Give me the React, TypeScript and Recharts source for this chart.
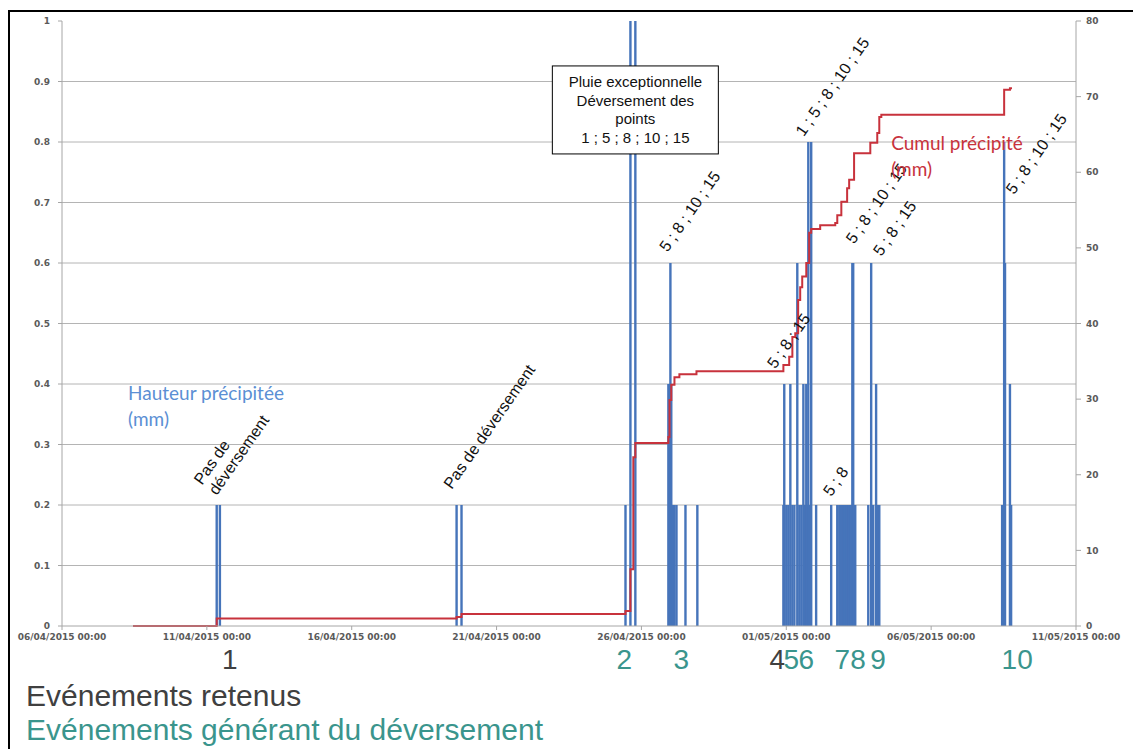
import React from "react";
import {
  ComposedChart,
  Bar,
  Line,
  XAxis,
  YAxis,
  CartesianGrid,
  ReferenceDot,
} from "recharts";

// x = days since 06/04/2015 00:00
const dateTicks = [0, 5, 10, 15, 20, 25, 30, 35];
const dateLabels = [
  "06/04/2015 00:00",
  "11/04/2015 00:00",
  "16/04/2015 00:00",
  "21/04/2015 00:00",
  "26/04/2015 00:00",
  "01/05/2015 00:00",
  "06/05/2015 00:00",
  "11/05/2015 00:00",
];
const heightTicks = [0, 0.1, 0.2, 0.3, 0.4, 0.5, 0.6, 0.7, 0.8, 0.9, 1];
const gridValues = [0.1, 0.2, 0.3, 0.4, 0.5, 0.6, 0.7, 0.8, 0.9];
const cumulTicks = [0, 10, 20, 30, 40, 50, 60, 70, 80];

// hauteur précipitée (mm)
const rainT = [
  5.34, 5.45, 13.62, 13.79,
  19.45, 19.62, 19.79,
  20.93, 20.97, 21.0, 21.03, 21.07, 21.1, 21.14, 21.21, 21.52, 21.93,
  24.9, 24.93, 25.0, 25.07, 25.14, 25.21, 25.28, 25.38, 25.45, 25.52, 25.59, 25.62,
  25.66, 25.69, 25.72, 25.76, 25.79, 25.86, 26.03, 26.55,
  26.76, 26.83, 26.86, 26.93, 26.97, 27.0, 27.03, 27.07, 27.1, 27.14, 27.17, 27.21,
  27.24, 27.28, 27.31, 27.34, 27.38,
  27.83, 27.93, 28.0, 28.1, 28.17, 28.21,
  32.45, 32.52, 32.55, 32.72, 32.76,
];
const rainH = [
  0.2, 0.2, 0.2, 0.2,
  0.2, 5.5, 16.7,
  0.4, 0.4, 0.6, 0.4, 0.2, 0.2, 0.2, 0.2, 0.2, 0.2,
  0.2, 0.4, 0.2, 0.2, 0.4, 0.2, 0.2, 0.6, 0.2, 0.2, 0.4, 0.2,
  0.2, 0.4, 0.2, 0.8, 0.2, 0.8, 0.2, 0.2,
  0.2, 0.2, 0.2, 0.2, 0.2, 0.2, 0.2, 0.2, 0.2, 0.2, 0.2, 0.2,
  0.2, 0.6, 0.6, 0.2, 0.2,
  0.2, 0.6, 0.2, 0.4, 0.2, 0.2,
  0.2, 0.8, 0.6, 0.4, 0.2,
];

// cumul précipité (mm)
const cumulT = [
  2.45, 5.34, 13.62, 13.79, 19.45, 19.62, 19.72, 19.79,
  20.93, 20.97, 21.03, 21.14, 21.31, 21.9,
  24.9, 25.1, 25.21, 25.31, 25.41, 25.48, 25.55, 25.69, 25.79, 25.86,
  26.17, 26.69, 26.76, 26.9, 27.1, 27.17, 27.34, 27.9, 28.14, 28.21, 28.28,
  32.52, 32.72, 32.79,
];
const cumulC = [
  0, 1.0, 1.2, 1.6, 2.0, 7.5, 22.3, 24.2,
  25.0, 29.9, 31.9, 32.9, 33.3, 33.7,
  34.5, 35.6, 38.2, 38.7, 43.1, 44.8, 46.2, 48.0, 52.0, 52.5,
  53.0, 53.3, 54.3, 56.1, 57.9, 59.0, 62.5, 63.9, 65.2, 67.3, 67.6,
  70.9, 71.1, 71.1,
];

// annotations (t, value on left axis)
const noteT = [4.83, 13.45, 20.9, 24.62, 25.6, 26.55, 27.34, 28.28, 32.86];
const noteV = [0.232, 0.225, 0.617, 0.424, 0.808, 0.213, 0.63, 0.61, 0.712];
const noteText = [
  ["Pas de", "déversement"],
  ["Pas de déversement"],
  ["5 ; 8 ; 10 ; 15"],
  ["5 ; 8 ; 15"],
  ["1 ; 5 ; 8 ; 10 ; 15"],
  ["5 ; 8"],
  ["5 ; 8 ; 10 ; 15"],
  ["5 ; 8 ; 15"],
  ["5 ; 8 ; 10 ; 15"],
];
const boxLines = ["Pluie exceptionnelle", "Déversement des", "points", "1 ; 5 ; 8 ; 10 ; 15"];

// événements
const eventT = [5.79, 19.41, 21.38, 24.69, 25.17, 25.69, 26.93, 27.48, 28.17, 32.97];
const eventLabels = ["1", "2", "3", "4", "5", "6", "7", "8", "9", "10"];
const eventSpill = [false, true, true, false, true, true, true, true, true, true];

const DARK = "#404040";
const TEAL = "#3a958d";
const BLUE = "#4674ba";
const FONT = "'Liberation Sans', Arial, sans-serif";

const byT = new Map<number, any>();
rainT.forEach((t, i) => byT.set(t, { ...(byT.get(t) || { t }), h: rainH[i] }));
cumulT.forEach((t, i) => byT.set(t, { ...(byT.get(t) || { t }), c: cumulC[i] }));
const rows = [...byT.values()].sort((a, b) => a.t - b.t);

const tickStyle = { fontSize: 9, fontWeight: "bold", fill: "#5a5a5a", fontFamily: "'DejaVu Sans', sans-serif" };

// thin bar of fixed width, centred on the point
const RainBar = (p: any) => {
  if (!p.height) return null;
  return <rect x={p.x + p.width / 2 - 1.2} y={p.y} width={2.4} height={p.height} fill={BLUE} />;
};

const RotNote = ({ cx, cy, lines }: any) => (
  <g transform={`translate(${cx},${cy}) rotate(-55)`}>
    <text fontSize={16} fontFamily={FONT} fill="#111">
      {lines.map((l: string, i: number) => (
        <tspan key={i} x={0} dy={i === 0 ? 0 : 18}>
          {l}
        </tspan>
      ))}
    </text>
  </g>
);

const BoxNote = ({ cx, cy }: any) => (
  <g>
    <rect x={cx - 83} y={cy - 44} width={166} height={88} fill="#fff" stroke="#000" strokeWidth={1} />
    {boxLines.map((l, i) => (
      <text key={i} x={cx} y={cy - 23 + i * 18.7} textAnchor="middle" fontSize={15} fontFamily={FONT} fill="#111">
        {l}
      </text>
    ))}
  </g>
);

const SeriesLabel = ({ cx, cy, lines, color }: any) => (
  <text fontSize={19} fontFamily="Lato, sans-serif" fill={color}>
    {lines.map((l: string, i: number) => (
      <tspan key={i} x={cx} y={cy + i * 26}>
        {l}
      </tspan>
    ))}
  </text>
);

const EventTick = ({ x, y, payload }: any) => {
  const i = eventT.indexOf(payload.value);
  if (i < 0) return null;
  return (
    <text x={x} y={y + 21} textAnchor="middle" fontSize={28} fontFamily={FONT} fill={eventSpill[i] ? TEAL : DARK}>
      {eventLabels[i]}
    </text>
  );
};

export default function App() {
  return (
    <div
      style={{
        position: "fixed",
        left: 8,
        top: 10,
        width: 1125,
        height: 739,
        overflow: "hidden",
        borderLeft: "2px solid #000",
        borderTop: "2px solid #000",
        background: "#fff",
      }}
    >
      <ComposedChart width={1116} height={676} data={rows} margin={{ top: 9, right: 0, left: 12, bottom: 0 }}>
        <CartesianGrid yAxisId="left" vertical={false} horizontalValues={gridValues} stroke="#b4b4b4" />
        <XAxis
          dataKey="t"
          type="number"
          domain={[0, 35]}
          ticks={dateTicks}
          interval={0}
          tickFormatter={(v: number) => dateLabels[dateTicks.indexOf(v)]}
          tick={tickStyle}
          stroke="#a6a6a6"
          tickSize={4}
          tickMargin={4}
          height={22}
        />
        <XAxis
          xAxisId="ev"
          dataKey="t"
          type="number"
          domain={[0, 35]}
          ticks={eventT}
          interval={0}
          axisLine={false}
          tickLine={false}
          tickSize={0}
          tickMargin={0}
          tick={<EventTick />}
          height={40}
        />
        <YAxis
          yAxisId="left"
          domain={[0, 1]}
          ticks={heightTicks}
          allowDataOverflow
          interval={0}
          width={40}
          tick={tickStyle}
          stroke="#a6a6a6"
          tickSize={4}
          tickMargin={8}
        />
        <YAxis
          yAxisId="right"
          orientation="right"
          domain={[0, 80]}
          ticks={cumulTicks}
          interval={0}
          width={50}
          tick={tickStyle}
          stroke="#a6a6a6"
          tickSize={5}
          tickMargin={5}
        />
        <Bar yAxisId="left" dataKey="h" fill={BLUE} shape={<RainBar />} isAnimationActive={false} />
        <Line
          yAxisId="right"
          dataKey="c"
          type="stepAfter"
          stroke="#c8323c"
          strokeWidth={2}
          dot={false}
          connectNulls
          isAnimationActive={false}
        />
        {noteT.map((t, i) => (
          <ReferenceDot
            key={i}
            yAxisId="left"
            x={t}
            y={noteV[i]}
            r={0}
            ifOverflow="visible"
            shape={(p: any) => <RotNote cx={p.cx} cy={p.cy} lines={noteText[i]} />}
          />
        ))}
        <ReferenceDot
          yAxisId="left"
          x={19.79}
          y={0.853}
          r={0}
          ifOverflow="visible"
          shape={(p: any) => <BoxNote cx={p.cx} cy={p.cy} />}
        />
        <ReferenceDot
          yAxisId="left"
          x={2.28}
          y={0.3736}
          r={0}
          ifOverflow="visible"
          shape={(p: any) => <SeriesLabel cx={p.cx} cy={p.cy} lines={["Hauteur précipitée", "(mm)"]} color="#5b8fd4" />}
        />
        <ReferenceDot
          yAxisId="left"
          x={28.62}
          y={0.787}
          r={0}
          ifOverflow="visible"
          shape={(p: any) => <SeriesLabel cx={p.cx} cy={p.cy} lines={["Cumul précipité", "(mm)"]} color="#c8323c" />}
        />
      </ComposedChart>
      <div style={{ position: "absolute", left: 16, top: 669, fontFamily: FONT, fontSize: 30, lineHeight: "30px", color: DARK, whiteSpace: "nowrap" }}>
        Evénements retenus
      </div>
      <div style={{ position: "absolute", left: 16, top: 703, fontFamily: FONT, fontSize: 30, lineHeight: "30px", color: TEAL, whiteSpace: "nowrap" }}>
        Evénements générant du déversement
      </div>
    </div>
  );
}
